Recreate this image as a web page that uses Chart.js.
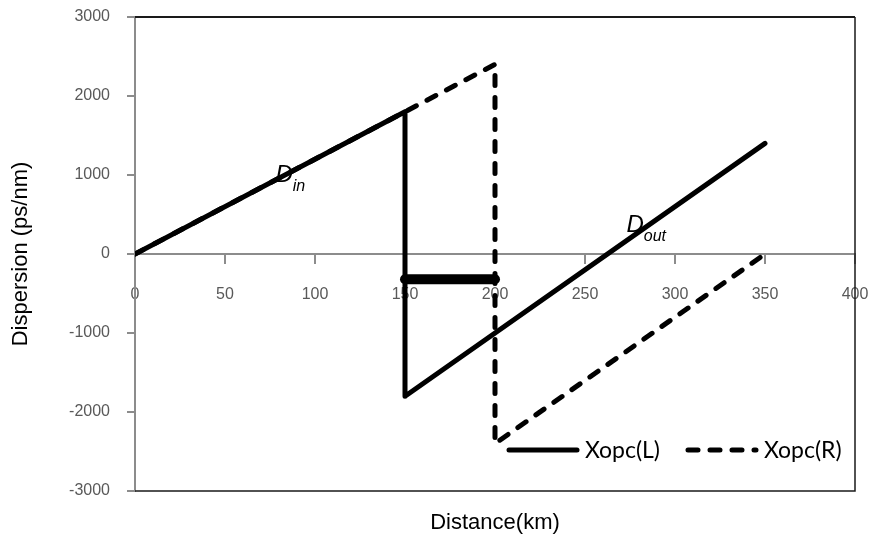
<!DOCTYPE html>
<html>
<head>
<meta charset="utf-8">
<script src="https://cdn.jsdelivr.net/npm/chart.js@4.4.0/dist/chart.umd.min.js"></script>
<style>
html,body{margin:0;padding:0;background:#fff;}
#wrap{width:871px;height:536px;position:relative;}
</style>
</head>
<body>
<div id="wrap"><canvas id="chart"></canvas></div>
<script>
// series: Xopc(L) solid, Xopc(R) dashed, OPC span bar
const xopcLX=[0,150,150,350];
const xopcLY=[0,1800,-1800,1400];
const xopcRX=[0,200,200,350];
const xopcRY=[0,2400,-2400,0];
const spanX=[150,200];
const spanY=[-320,-320];
const xTicks=[0,50,100,150,200,250,300,350,400];
const yTicks=[-3000,-2000,-1000,0,1000,2000,3000];
// curve labels (data coords of the text baseline start)
const noteText=["in","out"];
const noteX=[78,273];
const noteY=[910,280];

function pts(xs,ys){ return xs.map((x,i)=>({x:x,y:ys[i]})); }

const boxPlugin={
  id:"box",
  beforeDatasetsDraw(chart){
    const a=chart.chartArea, c=chart.ctx;
    c.save(); c.strokeStyle="#1a1a1a";
    c.lineWidth=2; c.beginPath(); c.moveTo(a.left,a.top); c.lineTo(a.right,a.top); c.stroke();
    c.lineWidth=1.5; c.beginPath(); c.moveTo(a.right,a.top); c.lineTo(a.right,a.bottom); c.lineTo(a.left,a.bottom); c.stroke();
    c.restore();
  }
};

const notePlugin={
  id:"notes",
  afterDatasetsDraw(chart){
    const c=chart.ctx, sx=chart.scales.x, sy=chart.scales.y;
    c.save(); c.fillStyle="#000"; c.textBaseline="alphabetic"; c.textAlign="left";
    noteText.forEach((t,i)=>{
      const px=sx.getPixelForValue(noteX[i]), py=sy.getPixelForValue(noteY[i]);
      c.font="italic 24px 'Liberation Sans', Arial, sans-serif";
      c.fillText("D",px,py);
      const w=c.measureText("D").width;
      c.font="italic 16px 'Liberation Sans', Arial, sans-serif";
      c.fillText(t,px+w,py+9);
    });
    c.restore();
  }
};

const legendPlugin={
  id:"legendLine",
  afterDraw(chart){
    const c=chart.ctx, a=chart.chartArea;
    const items=[{ds:chart.data.datasets[0],x0:a.right-346},{ds:chart.data.datasets[1],x0:a.right-167}];
    const y=a.bottom-41;
    c.save();
    items.forEach(it=>{
      c.strokeStyle=it.ds.borderColor; c.lineWidth=it.ds.borderWidth; c.lineCap="round";
      c.setLineDash(it.ds.borderDash||[]);
      c.beginPath(); c.moveTo(it.x0,y); c.lineTo(it.x0+68,y); c.stroke();
      c.setLineDash([]);
      c.fillStyle="#000"; c.font="23px Lato, 'Open Sans', sans-serif"; c.textBaseline="middle";
      c.fillText(it.ds.label,it.x0+76,y+1);
    });
    c.restore();
  }
};

const tickFont={family:"'Liberation Sans', Arial, sans-serif",size:16};
const titleFont={family:"'Liberation Sans', Arial, sans-serif",size:22};

new Chart(document.getElementById("chart"),{
  type:"scatter",
  data:{datasets:[
    {label:"Xopc(L)",data:pts(xopcLX,xopcLY),showLine:true,borderColor:"#000",borderWidth:5,pointRadius:0,borderCapStyle:"round",borderJoinStyle:"round",order:1},
    {label:"Xopc(R)",data:pts(xopcRX,xopcRY),showLine:true,borderColor:"#000",borderWidth:5,borderDash:[10,12],pointRadius:0,borderCapStyle:"round",borderJoinStyle:"round",order:2},
    {label:"span",data:pts(spanX,spanY),showLine:true,borderColor:"#000",borderWidth:10,pointRadius:0,borderCapStyle:"round",order:0}
  ]},
  options:{
    responsive:true,maintainAspectRatio:false,animation:false,
    layout:{padding:{top:17,right:16,left:0,bottom:0}},
    plugins:{legend:{display:false},tooltip:{enabled:false}},
    scales:{
      x:{type:"linear",min:0,max:400,position:{y:0},
        afterBuildTicks(s){ s.ticks=xTicks.map(v=>({value:v})); },
        afterFit(s){ s.paddingLeft=0; s.paddingRight=0; },
        ticks:{font:tickFont,color:"#595959",padding:22,maxRotation:0,callback:v=>String(v)},
        grid:{drawOnChartArea:false,tickLength:9,color:"#8c8c8c",lineWidth:2},
        border:{color:"#8c8c8c",width:2}},
      x2:{type:"linear",position:"bottom",
        ticks:{display:false},grid:{display:false},border:{display:false},
        title:{display:true,text:"Distance(km)",font:titleFont,color:"#000",padding:{top:16,bottom:0}},
        afterFit(s){ s.height=45; s.paddingLeft=0; s.paddingRight=0; }},
      y:{type:"linear",min:-3000,max:3000,
        afterBuildTicks(s){ s.ticks=yTicks.map(v=>({value:v})); },
        ticks:{font:tickFont,color:"#595959",padding:17,callback:v=>String(v)},
        grid:{drawOnChartArea:false,tickLength:8,color:"#8c8c8c",lineWidth:2},
        border:{color:"#8c8c8c",width:2},
        title:{display:true,text:"Dispersion (ps/nm)",font:titleFont,color:"#000",padding:{top:8,bottom:0}},
        afterFit(s){ s.width=135; s.paddingTop=0; s.paddingBottom=0; }}
    }
  },
  plugins:[boxPlugin,notePlugin,legendPlugin]
});
</script>
</body>
</html>
